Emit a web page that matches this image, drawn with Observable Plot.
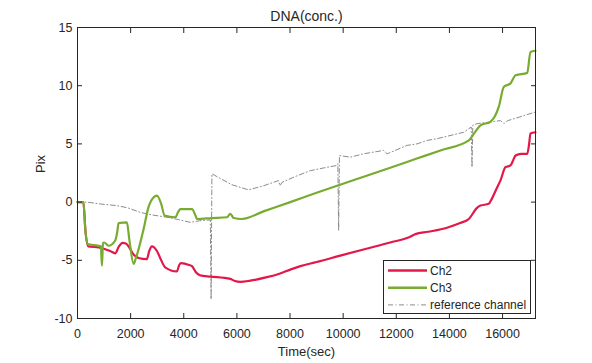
<!DOCTYPE html>
<html>
<head>
<meta charset="utf-8">
<script src="https://cdn.jsdelivr.net/npm/d3@7"></script>
<script src="https://cdn.jsdelivr.net/npm/@observablehq/plot@0.6"></script>
<style>
  html, body { margin: 0; padding: 0; background: #fff; }
  #wrap { position: relative; width: 592px; height: 363px; font-family: "Liberation Sans", Arial, sans-serif; }
  #legend { position: absolute; left: 383px; top: 260px; }
</style>
</head>
<body>
<div id="wrap"></div>
<script>
// ---- data (time in sec, value in Pix) ----
const ch2Time = [0, 220, 300, 400, 800, 1230, 1420, 1560, 1700, 1820, 1950, 2110, 2300, 2610, 2700, 2800, 2990, 3150, 3300, 3740, 3830, 3900, 4200, 4310, 4450, 4620, 5020, 5750, 5900, 6130, 6500, 7130, 7600, 8010, 8390, 9000, 9890, 10800, 11770, 12500, 12720, 13200, 13910, 14400, 14730, 15040, 15170, 15480, 15600, 15800, 15920, 16110, 16300, 16400, 16490, 16700, 16930, 17000, 17050, 17240];
const ch2Value = [0, 0, -2.5, -3.8, -3.9, -4.2, -4.4, -3.8, -3.5, -3.55, -3.9, -4.5, -4.8, -4.9, -4.2, -3.8, -4.2, -5.0, -5.6, -5.95, -5.4, -5.25, -5.4, -5.5, -6.0, -6.3, -6.4, -6.6, -6.75, -6.85, -6.75, -6.45, -6.15, -5.8, -5.5, -5.15, -4.6, -4.05, -3.47, -3.0, -2.75, -2.55, -2.2, -1.8, -1.45, -0.5, -0.3, -0.15, 0.3, 1.28, 1.85, 3.0, 3.15, 3.6, 4.0, 4.15, 4.15, 5.0, 5.9, 6.0];

const ch3Time = [0, 220, 300, 375, 790, 880, 920, 960, 1000, 1170, 1420, 1500, 1545, 1860, 1950, 2110, 2200, 2490, 2670, 2860, 2990, 3150, 3280, 3680, 3800, 3870, 4310, 4450, 4500, 5060, 5630, 5750, 5880, 6190, 7000, 8010, 9000, 9830, 10800, 11770, 12720, 13660, 14730, 14790, 15170, 15540, 15860, 16050, 16300, 16490, 16930, 17050, 17240];
const ch3Value = [0, 0, -2.5, -3.6, -3.75, -3.8, -5.47, -3.5, -3.47, -3.75, -3.3, -2.5, -1.8, -1.75, -3.2, -5.3, -4.8, -2.3, -0.45, 0.4, 0.56, -0.15, -1.16, -1.3, -0.8, -0.6, -0.6, -1.2, -1.45, -1.37, -1.3, -1.0, -1.37, -1.45, -0.8, 0.0, 0.8, 1.45, 2.2, 2.95, 3.7, 4.44, 5.3, 5.45, 6.6, 6.9, 8.2, 9.9, 10.2, 10.9, 11.1, 12.9, 13.0];

const refTime = [0, 350, 855, 1480, 1900, 2360, 2800, 3370, 3800, 4240, 4600, 5000, 5030, 5060, 5400, 5800, 6440, 7000, 7570, 7620, 7700, 8200, 8760, 9300, 9770, 9800, 9830, 9860, 10270, 10770, 11520, 11650, 11710, 12400, 12780, 13160, 13540, 14540, 14820, 14850, 14880, 15040, 15920, 16050, 16200, 17240];
const refValue = [0, 0, -0.16, -0.3, -0.5, -0.88, -1.1, -1.3, -1.5, -1.74, -1.6, -1.53, -8.35, 2.43, 2.0, 1.5, 1.05, 1.4, 1.85, 1.4, 1.7, 2.2, 2.7, 2.95, 3.15, 3.3, -2.45, 4.0, 3.86, 4.15, 4.44, 4.15, 4.2, 4.87, 5.0, 5.3, 5.45, 6.0, 6.45, 3.0, 6.6, 6.74, 7.0, 6.74, 7.0, 7.74];

const xTicks = [0, 2000, 4000, 6000, 8000, 10000, 12000, 14000, 16000];
const yTicks = [-10, -5, 0, 5, 10, 15];
const seriesNames = ["Ch2", "Ch3", "reference channel"];
const titleText = "DNA(conc.)";
const xLabel = "Time(sec)";
const yLabel = "Pix";

// ---- build tables ----
const ch2 = ch2Time.map((t, i) => ({t, v: ch2Value[i]}));
const ch3 = ch3Time.map((t, i) => ({t, v: ch3Value[i]}));
const ref = refTime.map((t, i) => ({t, v: refValue[i]}));

const RED = "#e3184a", GREEN = "#77ac30", GRAY = "#8c8c8c", INK = "#262626";
const DASHDOT = "5,2.5,1,2.5";

const chart = Plot.plot({
  width: 592,
  height: 363,
  marginLeft: 77,
  marginRight: 57,
  marginTop: 27,
  marginBottom: 45,
  style: {fontFamily: "'Liberation Sans', Arial, sans-serif", fontSize: "12.5px", color: INK, background: "#fff"},
  x: {domain: [0, 17240]},
  y: {domain: [-10, 15]},
  marks: [
    Plot.line(ref, {x: "t", y: "v", stroke: GRAY, strokeWidth: 1, strokeDasharray: DASHDOT}),
    Plot.line(ch2, {x: "t", y: "v", stroke: RED, strokeWidth: 2.2, curve: "monotone-x"}),
    Plot.line(ch3, {x: "t", y: "v", stroke: GREEN, strokeWidth: 2.2, curve: "monotone-x"}),
    Plot.frame({stroke: INK}),
    Plot.axisX(xTicks, {anchor: "bottom", tickSize: -5, tickPadding: 16, label: null, stroke: INK, tickFormat: d => String(d)}),
    Plot.axisX(xTicks, {anchor: "top", tickSize: -5, label: null, stroke: INK, tickFormat: () => ""}),
    Plot.axisY(yTicks, {anchor: "left", tickSize: -5, tickPadding: 10, label: null, stroke: INK, tickFormat: d => String(d)}),
    Plot.axisY(yTicks, {anchor: "right", tickSize: -5, label: null, stroke: INK, tickFormat: () => ""}),
    Plot.text([titleText], {text: d => d, frameAnchor: "top", dy: -7, lineAnchor: "bottom", fontSize: 14, fill: INK}),
    Plot.text([xLabel], {text: d => d, frameAnchor: "bottom", dy: 37, lineAnchor: "bottom", fontSize: 13, fill: INK}),
    Plot.text([yLabel], {text: d => d, frameAnchor: "left", dx: -33, rotate: -90, lineAnchor: "bottom", fontSize: 13, fill: INK})
  ]
});
document.getElementById("wrap").appendChild(chart);

// ---- legend ----
const styles = [
  {stroke: RED, width: 2.5, dash: null},
  {stroke: GREEN, width: 2.5, dash: null},
  {stroke: GRAY, width: 1, dash: DASHDOT}
];
const lw = 147, lh = 53;
const leg = d3.create("svg").attr("width", lw + 1).attr("height", lh + 1)
  .style("font-family", "'Liberation Sans', Arial, sans-serif").style("font-size", "12px");
leg.append("rect").attr("x", 0.5).attr("y", 0.5).attr("width", lw).attr("height", lh)
  .attr("fill", "#fff").attr("stroke", INK);
seriesNames.forEach((name, i) => {
  const cy = 10.5 + i * 17.2;
  leg.append("line").attr("x1", 5).attr("x2", 44).attr("y1", cy).attr("y2", cy)
    .attr("stroke", styles[i].stroke).attr("stroke-width", styles[i].width)
    .attr("stroke-dasharray", styles[i].dash);
  leg.append("text").attr("x", 47).attr("y", cy).attr("dy", "0.35em").attr("fill", INK).text(name);
});
const legDiv = document.createElement("div");
legDiv.id = "legend";
legDiv.appendChild(leg.node());
document.getElementById("wrap").appendChild(legDiv);
</script>
</body>
</html>
